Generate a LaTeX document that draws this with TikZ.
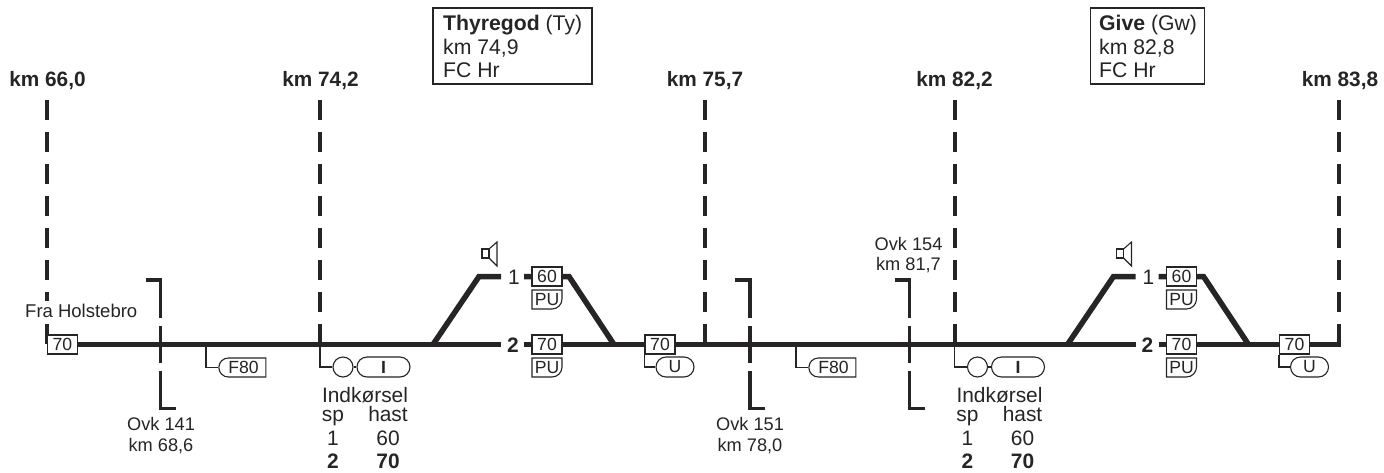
\documentclass[tikz,border=0pt]{standalone}
\usepackage{fontspec}
\setmainfont{Liberation Sans}
\usetikzlibrary{shapes.misc}
\definecolor{ink}{HTML}{262425}
\newcommand{\fsK}{\fontsize{20.8}{20.8}\selectfont}
\newcommand{\fsL}{\fontsize{21.2}{21.2}\selectfont}
\newcommand{\fsI}{\fontsize{20.9}{20.9}\selectfont}
\newcommand{\fsM}{\fontsize{18.2}{18.2}\selectfont}
\newcommand{\fsF}{\fontsize{18.5}{18.5}\selectfont}
\newcommand{\fsS}{\fontsize{17.6}{17.6}\selectfont}
\tikzset{
  track/.style={draw=ink,line width=5.5pt,line cap=butt,line join=miter},
  kmline/.style={draw=ink,line width=4pt,dash pattern=on 20pt off 12pt},
  ovk/.style={draw=ink,line width=3.6pt,dash pattern=on 38pt off 8pt on 37pt off 8pt on 200pt off 0pt},
  thin/.style={draw=ink,line width=1.1pt},
  lbl/.style={text=ink,inner sep=0pt,anchor=base},
  kmlbl/.style={lbl,font=\fsK\bfseries},
  big/.style={lbl,font=\fsI},
  mid/.style={lbl,font=\fsM},
  sbox/.style={thin,fill=white,text=ink,font=\fsS,inner sep=0pt,minimum width=30pt,minimum height=19pt},
  pill/.style={thin,fill=white,text=ink,font=\fsS,rounded rectangle,inner sep=0pt,minimum height=20pt},
  flag/.style={thin,fill=white,text=ink,font=\fsS,rounded rectangle,rounded rectangle east arc=none,inner sep=0pt,minimum height=19pt,minimum width=47pt},
  lamp/.style={thin,fill=white,circle,inner sep=0pt,minimum size=20pt},
}
\newcommand{\pubox}[3]{% name, left x, top y
  \draw[thin,fill=white] (#2,#3) -- (#2+30,#3) -- (#2+30,#3+9) arc[start angle=0,end angle=90,radius=10] -- (#2,#3+19) -- cycle;
  \node[text=ink,font=\fsS,inner sep=0pt] (#1) at (#2+15,#3+10) {PU};
}
\newcommand{\speaker}[2]{% left x, top y of the cone
  \draw[thin] (#1,#2+7) rectangle (#1+7,#2+16);
  \draw[thin] (#1+7,#2+7) -- (#1+15,#2) -- (#1+15,#2+24) -- (#1+7,#2+16);
}
\newcommand{\ovkmark}[2]{% x, name
  \coordinate (#2t) at (#1,280);
  \coordinate (#2b) at (#1,408.5);
  \draw[ovk] (#2t) -- (#2b);
  \draw[draw=ink,line width=3.6pt,line cap=butt] (#1-15,280) -- (#1+1.8,280);
  \draw[draw=ink,line width=3.6pt,line cap=butt] (#1-1.8,408.5) -- (#1+15,408.5);
}
\newcommand{\entry}[2]{% x offset, name
  \coordinate (#2o) at (#1+320,344.5);
  \coordinate (#2c) at (#1+320,367);
  \node[lamp] (#2l) at (#1+343,367) {};
  \node[pill,minimum width=53pt] (#2p) at (#1+383.5,367) {\bfseries I};
  \draw[thin] (#2o) -- (#2c) -- (#2l.west);
  \draw[thin] (#2l.east) -- (#2p.west);
  \node[big] at (#1+365,402) {Indkørsel};
  \node[big] at (#1+333,421) {sp};
  \node[big] at (#1+388,421) {hast};
  \node[big] at (#1+333,445) {1};
  \node[big] at (#1+388,445) {60};
  \node[big,font=\fsI\bfseries] at (#1+333,468) {2};
  \node[big,font=\fsI\bfseries] at (#1+388,468) {70};
}
\newcommand{\stationtracks}[2]{% x offset, name
  \coordinate (#2a) at (#1+433,344.5);
  \coordinate (#2b) at (#1+479,276.5);
  \coordinate (#2c) at (#1+569,276.5);
  \coordinate (#2d) at (#1+614,344.5);
  \draw[track] (#2a) -- (#2b) -- (#1+501,276.5);
  \draw[track] (#1+524,276.5) -- (#2c) -- (#2d);
  \speaker{#1+482}{242}
  \node[big] at (#1+514,284) {1};
  \node[big,font=\fsI\bfseries] at (#1+513,352) {2};
  \node[sbox] (#2u) at (#1+547,276.5) {60};
  \node[sbox] (#2m) at (#1+547,344.5) {70};
  \pubox{#2pu}{#1+532}{290}
  \pubox{#2pl}{#1+532}{358}
  \node[sbox] (#2x) at (#1+660,344.5) {70};
  \node[pill,minimum width=38pt] (#2y) at (#1+675,367) {U};
  \draw[thin] (#2x.south west) |- (#2y.west);
}
\newcommand{\speedflag}[2]{% x of branch, name
  \coordinate (#2o) at (#1,344.5);
  \node[flag] (#2f) at (#1+37.5,367.5) {F80};
  \draw[thin] (#2o) |- (#2f.west);
}
\begin{document}
\begin{tikzpicture}[x=1pt,y=-1pt]
\useasboundingbox (0,0) rectangle (1384,472);
% kilometre lines
\foreach \x/\n in {47/a,320/b,705/c,954.5/d,1339/e}{
  \coordinate (km\n t) at (\x,100);
  \coordinate (km\n b) at (\x,344);
  \draw[kmline] (km\n t) -- (km\n b);
}
\node[kmlbl] (la) at (47.5,86.5) {km 66,0};
\node[kmlbl] (lb) at (320.5,86.5) {km 74,2};
\node[kmlbl] (lc) at (705,86.5) {km 75,7};
\node[kmlbl] (ld) at (954.5,86.5) {km 82,2};
\node[kmlbl] (le) at (1340,86.5) {km 83,8};
% main line
\coordinate (w) at (47,344.5);
\coordinate (g1a) at (501,344.5);
\coordinate (g1b) at (524,344.5);
\coordinate (g2a) at (1135.5,344.5);
\coordinate (g2b) at (1158.5,344.5);
\coordinate (z) at (1341,344.5);
\draw[track] (w) -- (g1a);
\draw[track] (g1b) -- (g2a);
\draw[track] (g2b) -- (z);
% level crossings
\ovkmark{160.5}{p}
\ovkmark{750}{q}
\ovkmark{909.5}{r}
% label masking the first kilometre line
\node[lbl,font=\fsF,fill=white,anchor=base west,inner ysep=3pt] (fra) at (25,317) {Fra Holstebro};
\node[sbox] (start) at (62.5,344.5) {70};
% stations
\stationtracks{0}{s}
\stationtracks{634.5}{t}
\entry{0}{e}
\entry{634.5}{f}
\speedflag{206}{u}
\speedflag{796}{v}
% station boxes
\draw[thin] (433,8) rectangle (592,84);
\node[lbl,anchor=base west,font=\fsL] (ty) at (443,30.5) {\bfseries Thyregod\mdseries\ (Ty)};
\node[lbl,anchor=base west,font=\fsL] at (443,54) {km 74,9};
\node[lbl,anchor=base west,font=\fsL] at (443,77.5) {FC Hr};
\draw[thin] (1090.5,8) rectangle (1204.5,84);
\node[lbl,anchor=base west,font=\fsL] (gw) at (1099,30.5) {\bfseries Give\mdseries\ (Gw)};
\node[lbl,anchor=base west,font=\fsL] at (1099,54) {km 82,8};
\node[lbl,anchor=base west,font=\fsL] at (1099,77.5) {FC Hr};
% crossing labels
\node[mid] at (161,430) {Ovk 141};
\node[mid] at (161,451) {km 68,6};
\node[mid] at (750,430) {Ovk 151};
\node[mid] at (750,451) {km 78,0};
\node[mid] at (908.5,250) {Ovk 154};
\node[mid] at (908.5,270) {km 81,7};
\end{tikzpicture}
\end{document}
